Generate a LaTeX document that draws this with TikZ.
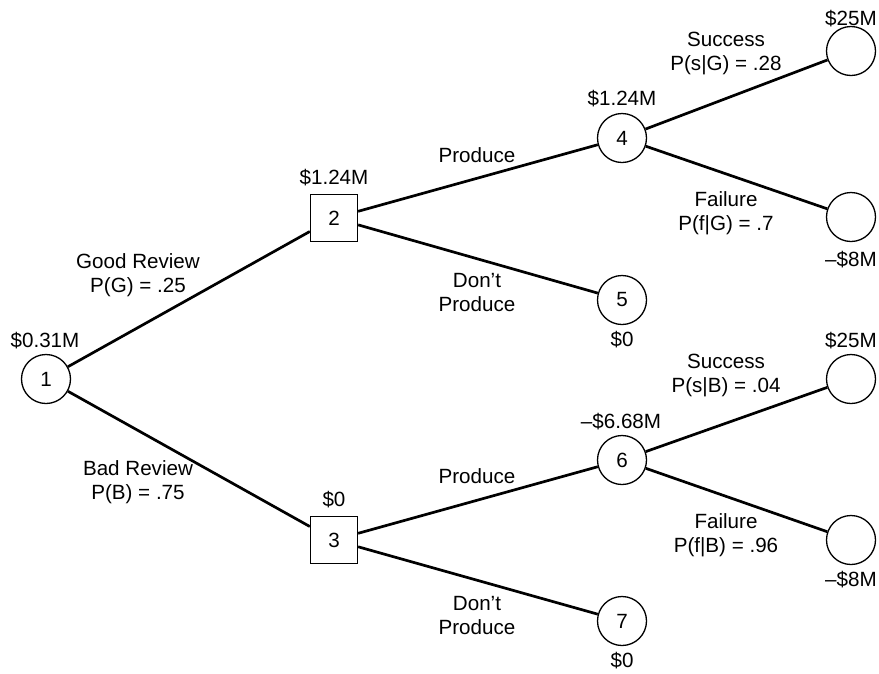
\documentclass[tikz,border=0pt]{standalone}
\usepackage{fontspec}
\setmainfont{Liberation Sans}
\begin{document}
\begin{tikzpicture}[x=1pt,y=-1pt,
  chance/.style={circle,draw,line width=1.3pt,minimum size=49pt,inner sep=0pt,fill=white},
  decision/.style={rectangle,draw,line width=1.3pt,minimum size=47pt,inner sep=0pt,fill=white},
  branch/.style={line width=2.7pt},
  lbl/.style={align=center,inner sep=0pt},
  font=\fontsize{20.6}{24}\selectfont]
\useasboundingbox (0,0) rectangle (879,673);

% decision and chance nodes
\node[chance]   (n1) at (46,379)  {1};
\node[decision] (n2) at (334,218) {2};
\node[decision] (n3) at (334,540) {3};
\node[chance]   (n4) at (622,138) {4};
\node[chance]   (n5) at (622,300) {5};
\node[chance]   (n6) at (622,460) {6};
\node[chance]   (n7) at (622,621) {7};
\node[chance]   (t1) at (851,51)  {};
\node[chance]   (t2) at (851,217) {};
\node[chance]   (t3) at (851,379) {};
\node[chance]   (t4) at (851,540) {};

% branches
\draw[branch] (n1) -- (n2);
\draw[branch] (n1) -- (n3);
\draw[branch] (n2) -- (n4);
\draw[branch] (n2) -- (n5);
\draw[branch] (n3) -- (n6);
\draw[branch] (n3) -- (n7);
\draw[branch] (n4) -- (t1);
\draw[branch] (n4) -- (t2);
\draw[branch] (n6) -- (t3);
\draw[branch] (n6) -- (t4);

% expected values
\node[lbl] (v1) at (45,341)  {\$0.31M};
\node[lbl] (v2) at (334,178) {\$1.24M};
\node[lbl] (v3) at (334,500) {\$0};
\node[lbl] (v4) at (622,99)  {\$1.24M};
\node[lbl] (v5) at (622,340) {\$0};
\node[lbl] (v6) at (621,422) {–\$6.68M};
\node[lbl] (v7) at (622,661) {\$0};
\node[lbl] (p1) at (851,19)  {\$25M};
\node[lbl] (p2) at (851,260) {–\$8M};
\node[lbl] (p3) at (851,341) {\$25M};
\node[lbl] (p4) at (851,580) {–\$8M};

% branch labels
\node[lbl] (b1) at (138,275) {Good Review\\P(G) = .25};
\node[lbl] (b2) at (138,482) {Bad Review\\P(B) = .75};
\node[lbl] (b3) at (477,155) {Produce};
\node[lbl] (b4) at (477,293) {Don’t\\Produce};
\node[lbl] (b5) at (477,476) {Produce};
\node[lbl] (b6) at (477,616) {Don’t\\Produce};
\node[lbl] (b7) at (726,53)  {Success\\P(s|G) = .28};
\node[lbl] (b8) at (726,213) {Failure\\P(f|G) = .7};
\node[lbl] (b9) at (726,375) {Success\\P(s|B) = .04};
\node[lbl] (b10) at (726,535) {Failure\\P(f|B) = .96};
\end{tikzpicture}
\end{document}
